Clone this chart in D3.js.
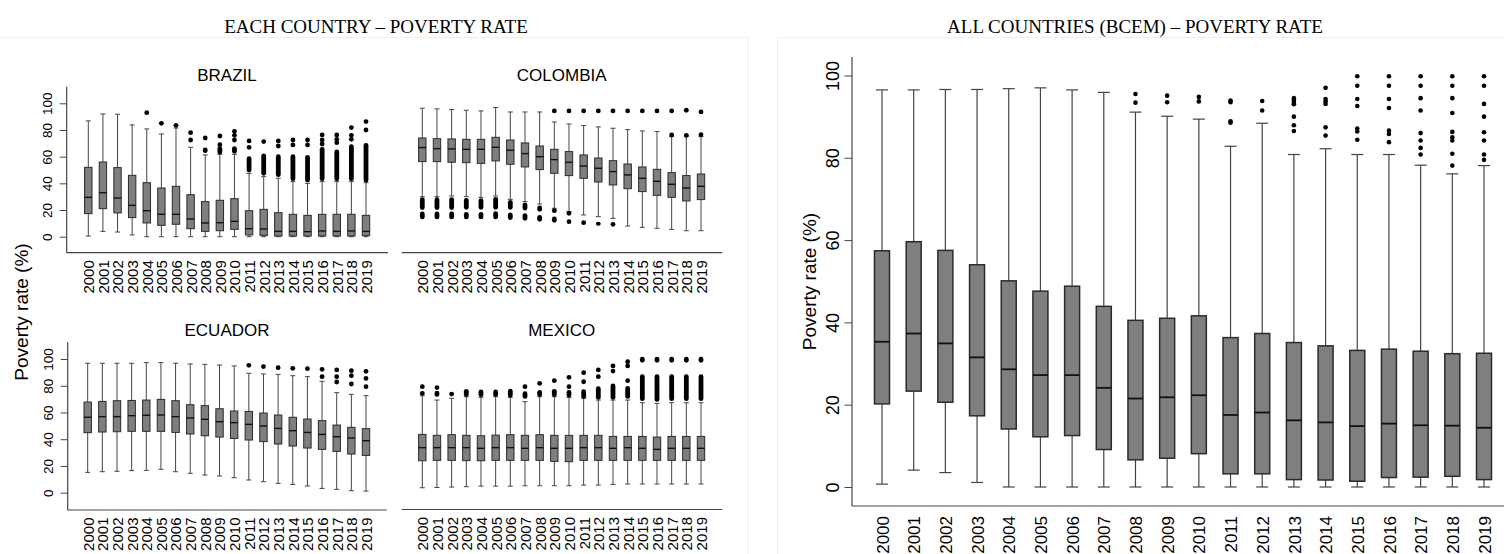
<!DOCTYPE html>
<html>
<head>
<meta charset="utf-8">
<script src="https://cdn.jsdelivr.net/npm/d3@7"></script>
<style>
  body { margin: 0; background: #fff; }
  svg { display: block; }
  text { fill: #000; }
</style>
</head>
<body>
<svg id="chart" width="1504" height="554"></svg>
<script>
// years on every x axis
const years = ["2000","2001","2002","2003","2004","2005","2006","2007","2008","2009",
               "2010","2011","2012","2013","2014","2015","2016","2017","2018","2019"];
const yTicks = [0, 20, 40, 60, 80, 100];

// each row: [lower whisker, Q1, median, Q3, upper whisker]
const brazilBoxes = [
  [0.5,17.3,29.5,52,86.8],[4,21,33,56,92],[3.5,17.8,29,51.8,91.8],[1.3,14.3,23.5,46,83.8],
  [0,10.3,19.5,40.5,80.8],[0,8.5,16.8,36.5,77],[0,9.3,16.8,37.8,81.5],[0,6,13.3,31.5,67],
  [0,4,10.3,26.3,61.3],[0,4.5,10.5,27.3,61.8],[0,5.5,11.5,28.5,61.8],[0,1.3,6,19.5,47.5],
  [0,1,5.8,20.5,45],[0,0.5,4,18,43.8],[0,0.5,4,16.8,41.3],[0,0.5,3.8,16,40],
  [0,0.5,4.3,16.8,41.3],[0,0.5,4,16.8,41.3],[0,0.5,4.3,16.8,41.3],[0,0.8,4,16,40.5]
];
const brazilOutliers = [[],[],[],[],[93],[85],[83.5],[78,72.5],[74],[75.5,69],[79,76,72.5],
  [71.8,67],[71.3],[71.8,68],[72.5,68.8],[72.5,68.8],[76.3,72.5,69.5],[76.3,73,70.5],[81.8,76,73],[86.3,80]];
const brazilBands = [[],[],[],[],[],[],[],[],[[64.5,65]],[[63.5,66]],[[64,66]],[[50,58.5]],
  [[47.5,60.5]],[[46.5,60]],[[43.5,60]],[[42.5,59.5]],[[43.5,65.5]],[[43.5,63.5]],[[43.5,67.5]],[[42.5,68.5]]];

const colombiaBoxes = [
  [30,56.3,66.8,74,96.3],[30,56.3,66,73.5,95.8],[30.5,55.8,65.8,73.3,95.3],[30,55.5,65.5,73,94.8],
  [29.5,55,65.5,73,94.3],[30.5,56.8,67,74.5,96.8],[28,54.3,64.8,72.5,93.5],[26.3,52.3,62.3,70.3,93.5],
  [24.5,50.3,60,68,93.5],[21.3,47.5,57.8,65.5,86],[18.8,45.8,55.8,63.8,84.5],[16.3,43.8,53,61.3,83.3],
  [15,41,51.3,59,82.3],[13.8,38.8,48.8,57,81.3],[8,36,46.3,54.5,80.3],[7,33.8,43.8,52.3,79.3],
  [6.3,31,41.5,50.5,78.8],[5.5,29.5,39.3,48,75],[4.5,26.8,36.5,45.8,75],[4.5,27.8,37.8,47,75]
];
const colombiaOutliers = [[],[],[],[],[],[],[],[],[],[94.3,19.5],[94.3,17.5],[94.3],[94.3],[94.3],
  [94.3],[94.3],[94.3],[94.3,76.3],[94.8,76],[93.5,76.5]];
const colombiaBands = [
  [[21.8,27.7],[14.8,17]],[[21.8,27.7],[14.8,17]],[[21.8,27.7],[14.8,17]],[[22,27.3],[14.8,16.8]],
  [[22,27],[14.8,16.8]],[[22,28],[14.8,17.2]],[[22,25.8],[14.3,16.3]],[[21.5,23.8],[13.8,15.8]],
  [[20.5,21.5],[13,14.5]],[[12.3,13.3]],[[11.3,11.3]],[[10.5,10.5]],[[10,9.5]],[[9.3,9.3]],
  [],[],[],[],[],[]
];

const ecuadorBoxes = [
  [15.2,44.9,56.4,67.8,96.8],[15.7,45.4,56.9,68.3,96.8],[16,45.6,56.9,68.8,96.8],[16.5,45.9,57.6,69,96.8],
  [16.7,45.9,57.9,69.3,97.3],[17.5,45.9,58.1,69.8,97.3],[15.7,45.1,56.9,68.8,96.8],[14.5,43.9,55.9,65.8,96.3],
  [13.2,42.6,54.9,65.1,96],[12.5,41.6,53.1,62.8,95.5],[11.2,40.6,52.4,61.1,94.8],[9.5,39.4,51.1,60.8,89.3],
  [8.2,38.2,49.9,59.6,88.8],[7,36.4,48.1,58.1,88.5],[6.2,34.9,46.4,56.4,87.5],[5,33.4,45.1,55.1,86.8],
  [3.2,32.4,43.6,53.9,83.3],[2.5,30.9,41.9,50.6,74.8],[1.5,28.9,40.9,48.9,73.6],[1.2,27.9,38.9,47.9,72.6]
];
const ecuadorOutliers = [[],[],[],[],[],[],[],[],[],[],[],[95.3],[94.3],[93.5],[93],[92.8],
  [92.3,86.8],[91.8,86.8,82.8],[91.3,87.5,81.3],[90.8,85.5,79.3]];
const ecuadorBands = [[],[],[],[],[],[],[],[],[],[],[],[],[],[],[],[],[],[],[],[]];

const mexicoBoxes = [
  [3.7,23.9,33.7,43.6,72.5],[3.9,24.2,33.7,42.9,69.3],[4.2,24.2,33.7,43.4,70.6],[4.5,24,33.7,42.9,71.8],
  [4.9,23.9,33.2,42.6,71.3],[4.9,24.2,33.7,43.1,71.8],[4.9,24.2,33.7,43.4,71.3],[5.2,24.2,33.2,42.9,68.1],
  [5.2,24.2,33.7,43.4,71.8],[5.2,23.4,33.2,42.9,71.8],[5.2,23.2,33.2,42.9,71.3],[5.7,24.2,33.7,42.9,70.6],
  [5.7,24.2,33.7,42.9,69.3],[6.2,24.2,33.2,42.1,69.3],[6.5,24.2,33.7,42.1,69.3],[6.5,24.2,33.2,42.1,67.3],
  [6.5,24.2,32.4,41.6,66.8],[6.5,24.2,33.2,42.1,67.3],[6.5,24.2,33.2,42.1,67.3],[6.5,24.2,33.2,42.1,67.3]
];
const mexicoOutliers = [[79.3,74.3],[78.6],[73.8],[],[],[],[],[79.3],[81.8],[83.8],[86.3,79.3],
  [89.8,83],[91.8,86.8],[94.8,91],[98,94.8,83.8],[],[],[],[],[]];
const mexicoBands = [[],[[73.5,74.5]],[],[[73.5,75.8]],[[73.3,75.3]],[[73.5,75.3]],[[73,76]],[[72,74]],
  [[73.5,75]],[[73.5,75.8]],[[73,75]],[[72,75.5]],[[71.3,77.8]],[[71.3,79.8]],[[72,78]],
  [[99,99.8],[70.3,86.8]],[[99,99.8],[69.8,86.8]],[[99,99.8],[70.3,86.8]],[[99,99.8],[70.3,86.8]],[[99,99.8],[70.3,86.8]]];

const allBoxes = [
  [0.7,20.2,35.3,57.4,96.5],[4.1,23.3,37.3,59.6,96.5],[3.5,20.6,34.9,57.5,96.6],[1.1,17.3,31.5,54,96.6],
  [0,14.1,28.6,50.1,96.8],[0,12.2,27.2,47.6,97],[0,12.5,27.2,48.8,96.5],[0,9.1,24.1,43.9,95.9],
  [0,6.6,21.5,40.5,91.1],[0,7,21.8,41,90.1],[0,8.1,22.3,41.6,89.4],[0,3.2,17.5,36.3,82.8],
  [0,3.2,18.1,37.3,88.4],[0,1.8,16.2,35.1,80.8],[0,1.7,15.7,34.3,82.2],[0,1.4,14.8,33.2,80.8],
  [0,2.3,15.4,33.5,80.8],[0,2.4,15,33,78.2],[0,2.6,14.9,32.4,76.1],[0,1.8,14.4,32.5,78.1]
];
const allOutliers = [[],[],[],[],[],[],[],[],
  [95.5,93.4],[95.1,93.5],[94.8,93.7],[93.9,93.5,88.9,88.5],[93.8,91.5],
  [94.5,93.9,93.4,93,90,87.9,86.5],[97,94.3,93.7,93.1,87.4,85.4],
  [99.8,97.5,94.3,92.6,87.1,86.4,84.4],[99.8,97.5,94.3,92.1,86.6,85.8,83.8],
  [99.8,97.5,94.5,91.5,86,84.2,82.4,80.8],[99.8,97.5,94.5,90.9,86.3,85,84.2,81,78.1],
  [99.8,97.5,93.1,90,86.2,84.2,80.8,79.5]];
const allBands = [[],[],[],[],[],[],[],[],[],[],[],[],[],[],[],[],[],[],[],[]];

const svg = d3.select("#chart");

// faint frames of the two figure images
svg.append("rect").attr("x", -1).attr("y", 37.5).attr("width", 749).attr("height", 520)
  .attr("fill", "none").attr("stroke", "#efefef");
svg.append("rect").attr("x", 777.5).attr("y", 37.5).attr("width", 730).attr("height", 520)
  .attr("fill", "none").attr("stroke", "#efefef");

svg.append("text").attr("x", 376).attr("y", 33).attr("text-anchor", "middle")
  .style("font-family", "'Liberation Serif', 'Times New Roman', serif").style("font-size", "19px")
  .text("EACH COUNTRY – POVERTY RATE");
svg.append("text").attr("x", 1135).attr("y", 33).attr("text-anchor", "middle")
  .style("font-family", "'Liberation Serif', 'Times New Roman', serif").style("font-size", "19px")
  .text("ALL COUNTRIES (BCEM) – POVERTY RATE");

function drawPanel(cfg, boxes, outliers, bands) {
  const x = d3.scalePoint().domain(years).range([cfg.first, cfg.last]);
  const y = d3.scaleLinear().domain([0, 100]).range([cfg.y0, cfg.y100]);
  const g = svg.append("g").style("font-family", "'Liberation Sans', Arial, sans-serif");

  if (cfg.title) {
    g.append("text").attr("x", cfg.titleX).attr("y", cfg.titleY).attr("text-anchor", "middle")
      .style("font-size", "17px").text(cfg.title);
  }

  if (cfg.showY) {
    g.append("line").attr("x1", cfg.axisX).attr("x2", cfg.axisX)
      .attr("y1", cfg.yTop).attr("y2", cfg.yBot).attr("stroke", "#444").attr("stroke-width", 1.2);
    const ya = g.append("g").attr("transform", `translate(${cfg.axisX},0)`)
      .call(d3.axisLeft(y).tickValues(yTicks).tickSize(cfg.tick).tickSizeOuter(0));
    ya.select(".domain").remove();
    ya.selectAll("line").attr("stroke", "#444");
    ya.selectAll("text")
      .attr("x", 0).attr("dy", null)
      .attr("text-anchor", "middle")
      .attr("transform", `translate(${-cfg.yLabOff},0) rotate(-90)`)
      .style("font-size", cfg.yFont + "px").style("font-family", "'Liberation Sans', Arial, sans-serif")
      .attr("fill", "#000");
  }

  g.append("line").attr("x1", cfg.lineStart).attr("x2", cfg.lineEnd)
    .attr("y1", cfg.yBot).attr("y2", cfg.yBot).attr("stroke", "#444").attr("stroke-width", 1.2);

  const xa = g.append("g").attr("transform", `translate(0,${cfg.yBot})`)
    .call(d3.axisBottom(x).tickSize(0));
  xa.select(".domain").remove();
  xa.selectAll("text")
    .attr("y", 0).attr("dy", null)
    .attr("text-anchor", "end")
    .attr("transform", `translate(${cfg.xFont * 0.36},${cfg.xGap}) rotate(-90)`)
    .style("font-size", cfg.xFont + "px").style("font-family", "'Liberation Sans', Arial, sans-serif")
    .attr("fill", "#000");

  const bw = cfg.boxW, cw = cfg.capW;
  const item = g.selectAll(".yr").data(boxes).join("g").attr("class", "yr")
    .attr("transform", (d, i) => `translate(${x(years[i])},0)`);

  item.append("line").attr("y1", d => y(d[0])).attr("y2", d => y(d[1]))
    .attr("stroke", "#444").attr("stroke-width", cfg.wLine);
  item.append("line").attr("y1", d => y(d[3])).attr("y2", d => y(d[4]))
    .attr("stroke", "#444").attr("stroke-width", cfg.wLine);
  item.append("line").attr("x1", -cw / 2).attr("x2", cw / 2)
    .attr("y1", d => y(d[0])).attr("y2", d => y(d[0])).attr("stroke", "#444").attr("stroke-width", cfg.wLine);
  item.append("line").attr("x1", -cw / 2).attr("x2", cw / 2)
    .attr("y1", d => y(d[4])).attr("y2", d => y(d[4])).attr("stroke", "#444").attr("stroke-width", cfg.wLine);
  item.append("rect").attr("x", -bw / 2).attr("width", bw)
    .attr("y", d => y(d[3])).attr("height", d => y(d[1]) - y(d[3]))
    .attr("fill", "#7f7f7f").attr("stroke", "#2b2b2b").attr("stroke-width", cfg.wBox);
  item.append("line").attr("x1", -bw / 2).attr("x2", bw / 2)
    .attr("y1", d => y(d[2])).attr("y2", d => y(d[2])).attr("stroke", "#111").attr("stroke-width", cfg.wMed);

  // runs of overlapping outlier dots drawn as one capsule
  item.selectAll(".band").data((d, i) => bands[i]).join("rect").attr("class", "band")
    .attr("x", -cfg.r).attr("width", cfg.r * 2)
    .attr("y", b => y(b[1]) - cfg.r).attr("height", b => y(b[0]) - y(b[1]) + cfg.r * 2)
    .attr("rx", cfg.r).attr("fill", "#000");
  item.selectAll(".out").data((d, i) => outliers[i]).join("circle").attr("class", "out")
    .attr("cy", v => y(v)).attr("r", cfg.r).attr("fill", "#000");
}

const small = { boxW: 7.4, capW: 5, wLine: 1, wBox: 1, wMed: 1.4, r: 2.4, tick: 7, yLabOff: 14.2,
  yFont: 13.5, xFont: 15, xGap: 7.5 };

drawPanel(Object.assign({}, small, { title: "BRAZIL", titleX: 227, titleY: 81, showY: true,
  axisX: 66.7, lineStart: 66.7, lineEnd: 388, first: 88.3, last: 366,
  y0: 236.7, y100: 103.3, yTop: 86.7, yBot: 252.7 }), brazilBoxes, brazilOutliers, brazilBands);
drawPanel(Object.assign({}, small, { title: "COLOMBIA", titleX: 561.7, titleY: 81, showY: false,
  lineStart: 401.7, lineEnd: 722.3, first: 422.3, last: 701,
  y0: 236.7, y100: 103.3, yTop: 86.7, yBot: 252.7 }), colombiaBoxes, colombiaOutliers, colombiaBands);
drawPanel(Object.assign({}, small, { title: "ECUADOR", titleX: 227, titleY: 336, showY: true,
  axisX: 67.7, lineStart: 67.7, lineEnd: 386.7, first: 87.7, last: 366,
  y0: 492.7, y100: 359, yTop: 342.3, yBot: 510 }), ecuadorBoxes, ecuadorOutliers, ecuadorBands);
drawPanel(Object.assign({}, small, { title: "MEXICO", titleX: 561.7, titleY: 336, showY: false,
  lineStart: 401.7, lineEnd: 722.3, first: 422.3, last: 701,
  y0: 492.7, y100: 359, yTop: 342.3, yBot: 509.5 }), mexicoBoxes, mexicoOutliers, mexicoBands);

drawPanel({ boxW: 15, capW: 12, wLine: 1.2, wBox: 1.5, wMed: 1.8, r: 2.3, tick: 7.5, yLabOff: 13.5,
  yFont: 18, xFont: 17, xGap: 10, showY: true,
  axisX: 852, lineStart: 852, lineEnd: 1504, first: 882, last: 1484,
  y0: 487, y100: 75.5, yTop: 57, yBot: 506 }, allBoxes, allOutliers, allBands);

// y axis titles
svg.append("text").attr("transform", "translate(28,312) rotate(-90)").attr("text-anchor", "middle")
  .style("font-family", "'Liberation Sans', Arial, sans-serif").style("font-size", "19px")
  .text("Poverty rate (%)");
svg.append("text").attr("transform", "translate(816,281.5) rotate(-90)").attr("text-anchor", "middle")
  .style("font-family", "'Liberation Sans', Arial, sans-serif").style("font-size", "19px")
  .text("Poverty rate (%)");
</script>
</body>
</html>
